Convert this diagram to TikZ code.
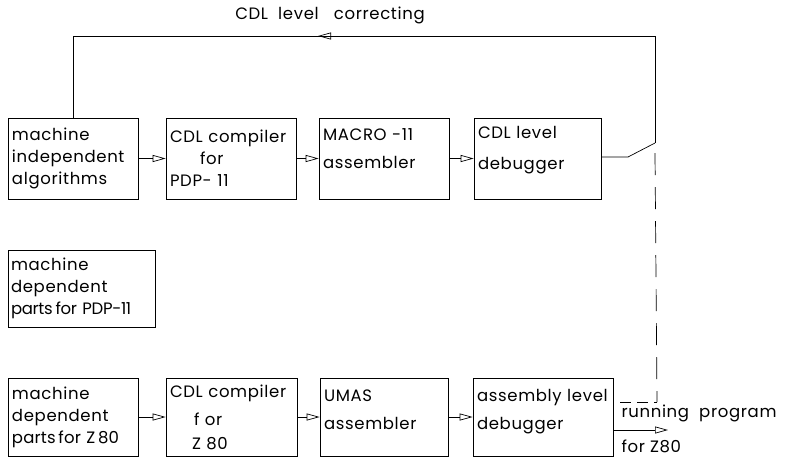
\documentclass[tikz,border=0pt]{standalone}
\usepackage{fontspec}
\setmainfont{Poppins}[LetterSpace=4]
\usetikzlibrary{arrows.meta}

\begin{document}
\begin{tikzpicture}[x=1pt,y=-1pt,
  box/.style={draw,line width=.7pt,inner sep=4pt,align=left,minimum height=81pt,
    font=\fontsize{16.5}{22}\selectfont},
  arr/.style={line width=.7pt,-{Triangle[open,length=13pt,width=7pt]}},
  link/.style={line width=.7pt},
  dashline/.style={line width=.7pt,dash pattern=on 22pt off 12pt}]
\useasboundingbox (0,0) rectangle (792,459);
\node[box,text width=122pt] (alg) at (73,158.5) {machine\\ independent\\ algorithms};
\node[box,text width=122pt] (cdlpdp) at (231,158.5) {CDL compiler\\ \hspace*{30pt}for\\ PDP- 11};
\node[box,text width=122pt] (macro) at (384,158.5) {MACRO -11\\[6pt] assembler\\[-8pt] \strut};
\node[box,text width=119pt] (cdldbg) at (537.5,158.5) {CDL level\\[9pt] debugger\\[-8pt] \strut};
\node[box,text width=141pt,inner xsep=3pt,minimum height=77pt] (dep11) at (81.5,288.5) {machine\\ dependent\\ \mbox{\addfontfeatures{LetterSpace=-2}parts\,for PDP-11}};
\node[box,text width=122pt,minimum height=78pt] (depz) at (73,417) {machine\\ dependent\\ \mbox{\addfontfeatures{LetterSpace=1}parts\,for Z\,80}};
\node[box,text width=123pt,minimum height=78pt] (cdlz) at (231.5,417) {CDL compiler\\[6pt] \hspace*{24pt}f or\\[2pt] \hspace*{22pt}Z 80};
\node[box,text width=120pt,minimum height=78pt] (umas) at (384,417) {UMAS\\[6pt] assembler\\[-14pt] \strut};
\node[box,text width=132pt,minimum height=78pt] (asmdbg) at (543,417) {\mbox{assembly level}\\[6pt] debugger\\[-14pt] \strut};
\node[font=\fontsize{16.5}{18}\selectfont] (corr) at (330,15) {CDL\ \ level\ \ \ correcting};
\node[anchor=west,font=\fontsize{16.5}{18}\selectfont] (run) at (618,413) {running\ \ program};
\node[anchor=west,font=\fontsize{16.5}{18}\selectfont] (forz) at (618,446) {for Z80};
\coordinate (tr) at (655,36);
\coordinate (fb) at (318,36);
\coordinate (sw) at (655,143);
\coordinate (kn) at (628,157);
\coordinate (dz) at (657,402);
\coordinate (de) at (620,402);
\coordinate (out) at (668,430);
\draw[arr] (alg) -- (cdlpdp);
\draw[arr] (cdlpdp) -- (macro);
\draw[arr] (macro) -- (cdldbg);
\draw[arr] (depz) -- (cdlz);
\draw[arr] (cdlz) -- (umas);
\draw[arr] (umas) -- (asmdbg);
\draw[link] (alg.north) |- (tr) -- (sw);
\draw[arr] (tr) -- (fb);
\draw[link] (cdldbg.east |- kn) -- (kn) -- (sw);
\draw[dashline] ([yshift=-10pt]sw) -- (dz);
\draw[link,dash pattern=on 11pt off 6pt] (de) -- (dz);
\draw[arr] (asmdbg.east |- out) -- (out);
\end{tikzpicture}
\end{document}
